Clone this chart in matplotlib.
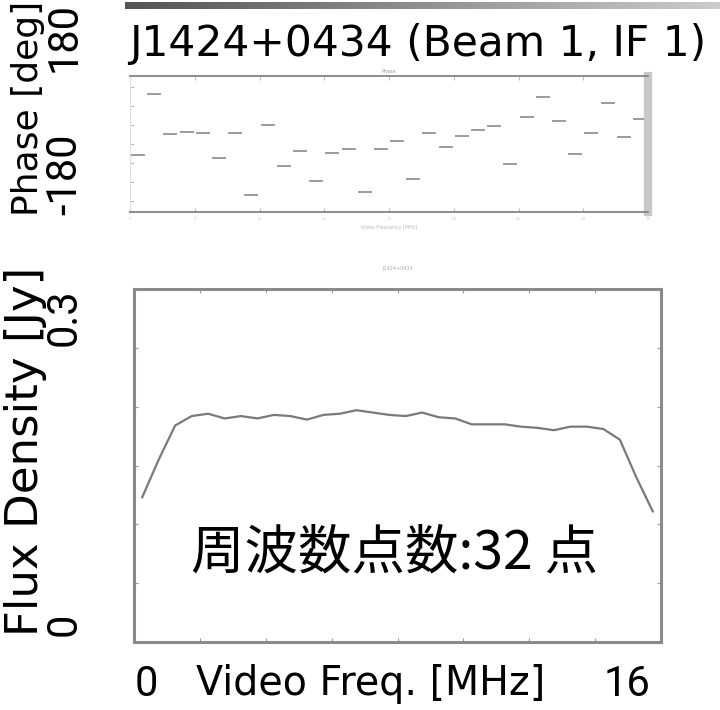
import numpy as np
import matplotlib.pyplot as plt

# data
freq = np.arange(32) * 0.5 + 0.25      # channel centres [MHz]
flux = [0.123, 0.155, 0.184, 0.192, 0.194, 0.190, 0.192, 0.190,
        0.193, 0.192, 0.189, 0.193, 0.194, 0.197, 0.195, 0.193,
        0.192, 0.195, 0.191, 0.190, 0.185, 0.185, 0.185, 0.183,
        0.182, 0.180, 0.183, 0.183, 0.181, 0.172, 0.140, 0.111]
phase = [-30, 132, 27, 33, 29, -36, 29, -135, 51, -58, -18, -97,
         -23, -14, -126, -14, 9, -93, 29, -7, 20, 36, 47, -52,
         72, 125, 60, -27, 28, 108, 18, 67]
xticks = [0, 2, 4, 6, 8, 10, 12, 14, 16]

W, H = 720, 710
fig = plt.figure(figsize=(W / 100, H / 100), dpi=100)
words = ['DejaVu Sans']
nums = ['Roboto', 'DejaVu Sans']
jp = ['Noto Sans CJK JP', 'DejaVu Sans']


def px_axes(l, t, r, b):
    return fig.add_axes([l / W, 1 - b / H, (r - l) / W, (b - t) / H])


def px_text(x, y, s, **kw):
    fig.text(x / W, 1 - y / H, s, **kw)


def side_text(x, y, s, ha, **kw):
    # vertical slide label, x is the baseline, y is where the text ends
    px_text(x, y, s, rotation=90, rotation_mode='anchor', ha=ha,
            va='baseline', **kw)


# gradient bar at the top
bar = px_axes(125, 2, 720, 9)
bar.imshow(np.linspace(0.33, 0.8, 200)[None, :], cmap='gray', vmin=0, vmax=1,
           aspect='auto', extent=[0, 1, 0, 1])
bar.axis('off')

# phase panel
ax1 = px_axes(130, 76, 648, 212)
ax1.plot(freq, phase, ls='none', marker='_', ms=10, mew=1.4, color='#9c9c9c')
ax1.set_xlim(0, 16)
ax1.set_ylim(-180, 180)
ax1.set_xticks(xticks)
ax1.set_yticks([-150, -100, -50, 0, 50, 100, 150])
ax1.tick_params(direction='in', length=3, color='#bbbbbb', labelleft=False,
                labelbottom=False, top=True, right=True)
for s in ['top', 'bottom']:
    ax1.spines[s].set_color('#8c8c8c')
    ax1.spines[s].set_linewidth(1.4)
ax1.spines['left'].set_color('#dddddd')
ax1.spines['right'].set_color('#c8c8c8')
ax1.spines['right'].set_linewidth(6)
for t in xticks:
    ax1.text(t, -192, str(t), fontsize=3, color='#cccccc', ha='center', va='top')
ax1.text(8, -215, 'Video Frequency [MHz]', fontsize=3.5, color='#bbbbbb',
         ha='center', va='top')
ax1.text(8, 186, 'Phase', fontsize=3.5, color='#999999', ha='center', va='bottom')

# amplitude panel
ax2 = px_axes(134, 289, 661, 642)
ax2.plot(freq, flux, color='#7a7a7a', lw=1.6)
ax2.set_xlim(0, 16)
ax2.set_ylim(0, 0.3)
ax2.set_xticks(xticks)
ax2.set_yticks(np.arange(0, 0.31, 0.05))
ax2.tick_params(direction='in', length=3, color='#999999', labelleft=False,
                labelbottom=False, top=True, right=True)
for s in ax2.spines.values():
    s.set_color('#8a8a8a')
    s.set_linewidth(2.2)
ax2.set_title('J1424+0434', fontsize=3.5, color='#aaaaaa', pad=14)
px_text(395, 553, '周波数点数:32 点', family=jp, fontsize=38.5, ha='center',
        va='center')

# slide labels
px_text(129, 44, 'J1424+0434 (Beam 1, IF 1)', family=words, fontsize=30.5,
        ha='left', va='center')
side_text(38, 1, 'Phase [deg]', 'right', family=words, fontsize=26)
side_text(38, 636, 'Flux Density [Jy]', 'left', family=words, fontsize=32.5)
side_text(76, 2, '180', 'right', family=nums, fontsize=30)
side_text(76, 215, '-180', 'left', family=nums, fontsize=30)
side_text(76, 346, '0.3', 'left', family=nums, fontsize=30)
side_text(76, 636, '0', 'left', family=nums, fontsize=30)
px_text(146, 684, '0', family=nums, fontsize=30, ha='center', va='center')
px_text(371, 684, 'Video Freq. [MHz]', family=words, fontsize=28.5,
        ha='center', va='center')
px_text(627, 684, '16', family=nums, fontsize=30, ha='center', va='center')

fig.savefig('out.png', dpi=100)
